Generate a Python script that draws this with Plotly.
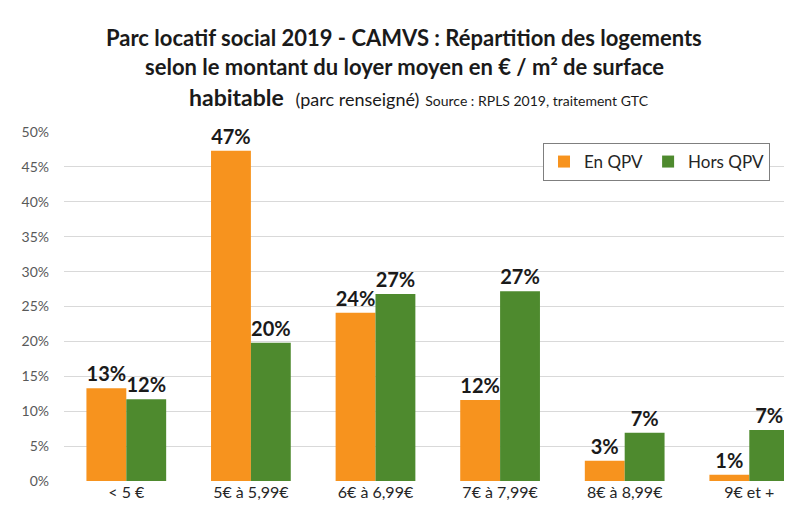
import plotly.graph_objects as go

categories = ["< 5 €", "5€ à 5,99€", "6€ à 6,99€", "7€ à 7,99€", "8€ à 8,99€", "9€ et +"]
en_qpv = [0.13, 0.47, 0.24, 0.12, 0.03, 0.01]
en_qpv_plot = [0.133, 0.473, 0.241, 0.116, 0.029, 0.009]
hors_qpv = [0.12, 0.20, 0.27, 0.27, 0.07, 0.07]
hors_qpv_plot = [0.117, 0.198, 0.268, 0.272, 0.069, 0.073]
y_ticks = [0, 0.05, 0.10, 0.15, 0.20, 0.25, 0.30, 0.35, 0.40, 0.45, 0.50]

FONT = "Lato"
ORANGE = "#F7931E"
GREEN = "#4E8A2E"

fig = go.Figure()
fig.add_trace(go.Bar(
    name="En QPV", x=categories, y=en_qpv_plot,
    marker=dict(color=ORANGE, line=dict(width=0)),
    text=[f"{round(v*100)}%" for v in en_qpv], textposition="outside",
    textfont=dict(family=FONT, size=20, color="#1a1a1a", weight="bold"),
    cliponaxis=False,
))
fig.add_trace(go.Bar(
    name="Hors QPV", x=categories, y=hors_qpv_plot,
    marker=dict(color=GREEN, line=dict(width=0)),
    text=[f"{round(v*100)}%" for v in hors_qpv], textposition="outside",
    textfont=dict(family=FONT, size=20, color="#1a1a1a", weight="bold"),
    cliponaxis=False,
))

L, R, T, B = 56, 0, 124, 34
plot_w = 792 - L - R
plot_h = 507 - T - B

def ypix(p):
    return (507 - B - p) / plot_h

def xpix(p):
    return (p - L) / plot_w

fig.update_layout(
    width=792, height=507,
    margin=dict(l=L, r=R, t=T, b=B),
    paper_bgcolor="white", plot_bgcolor="white",
    barmode="group", bargap=0.36, bargroupgap=0,
    font=dict(family=FONT, color="#262626"),
    legend=dict(
        orientation="h", x=xpix(535), y=ypix(135), xanchor="left", yanchor="top",
        bordercolor="#7f7f7f", borderwidth=1, bgcolor="white",
        font=dict(family=FONT, size=17, color="#262626"),
        traceorder="normal",
    ),
    xaxis=dict(
        range=[-0.5, 5.407], automargin=False,
        tickfont=dict(family=FONT, size=16, color="#262626"),
        showline=False, ticks="",
    ),
    yaxis=dict(
        range=[0, 0.5], tickvals=y_ticks, tickformat=".0%", automargin=False,
        tickfont=dict(family=FONT, size=14, color="#595959"),
        gridcolor="#d9d9d9", gridwidth=1, zeroline=False,
        ticks="", ticklabelstandoff=14,
    ),
    annotations=[
        dict(text="<b>Parc locatif social 2019 - CAMVS : Répartition des logements</b>",
             x=xpix(396), y=ypix(29), xref="paper", yref="paper", showarrow=False,
             yanchor="middle", font=dict(family=FONT, size=22, color="#1a1a1a")),
        dict(text="<b>selon le montant du loyer moyen en € / m² de surface</b>",
             x=xpix(396), y=ypix(59), xref="paper", yref="paper", showarrow=False,
             yanchor="middle", font=dict(family=FONT, size=22, color="#1a1a1a")),
        dict(text="<b>habitable</b>  <span style='font-size:18px'>(parc renseigné)</span> "
                  "<span style='font-size:14px'>Source : RPLS 2019, traitement GTC</span>",
             x=xpix(411), y=ypix(89), xref="paper", yref="paper", showarrow=False,
             yanchor="middle", font=dict(family=FONT, size=23, color="#1a1a1a")),
    ],
)

fig.write_html("out.html")
